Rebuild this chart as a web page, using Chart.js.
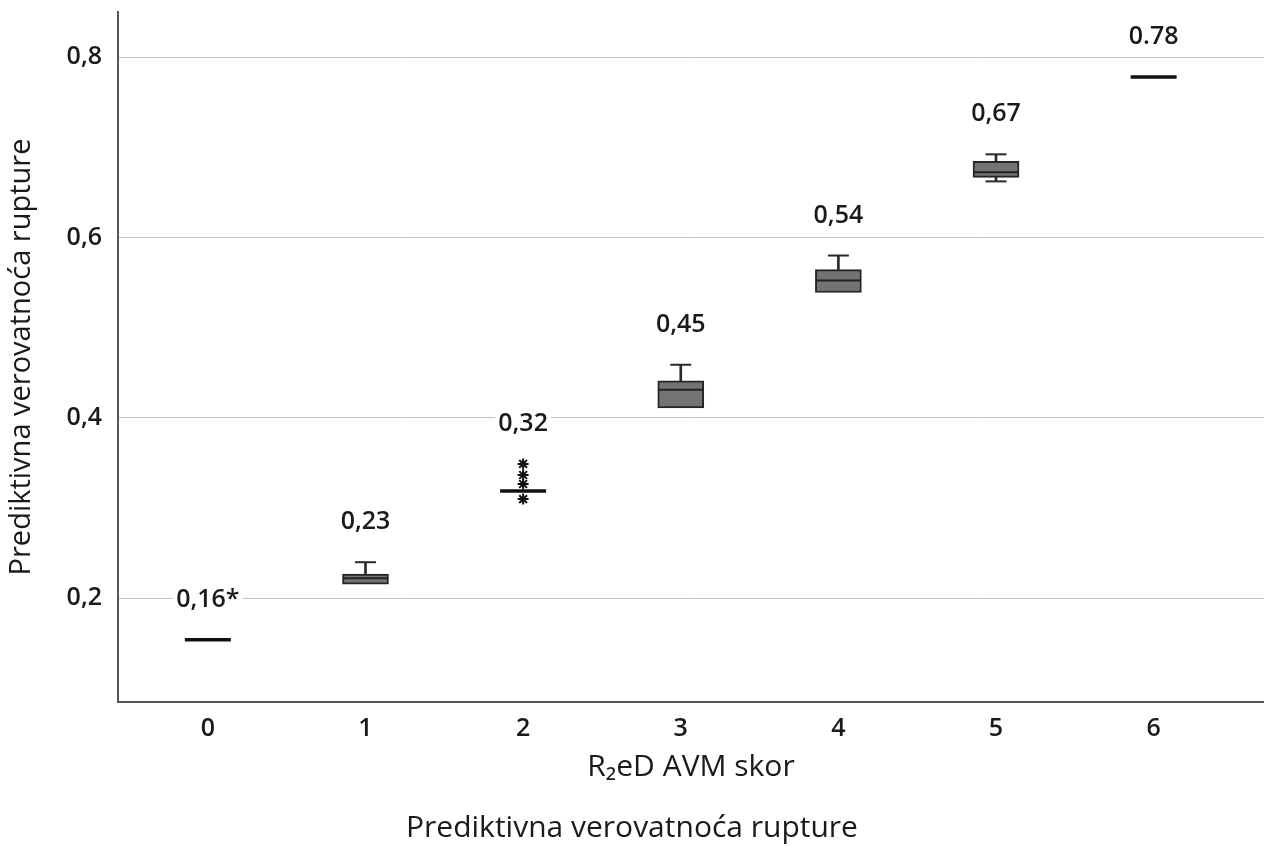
<!DOCTYPE html>
<html>
<head>
<meta charset="utf-8">
<script src="https://cdn.jsdelivr.net/npm/chart.js@4/dist/chart.umd.min.js"></script>
<style>
  html, body { margin: 0; padding: 0; background: #fff; }
  #wrap { width: 1264px; height: 846px; }
</style>
</head>
<body>
<div id="wrap"><canvas id="rupture" width="1264" height="846"></canvas></div>
<script>
// R2eD AVM skor -> predicted rupture probability (box plot values)
const scores = [0, 1, 2, 3, 4, 5, 6];
const whiskerLow = [0.154, 0.2156, 0.319, 0.411, 0.539, 0.6622, 0.778];
const q1 = [0.154, 0.2156, 0.319, 0.411, 0.539, 0.6667, 0.778];
const medians = [0.154, 0.2222, 0.319, 0.4311, 0.5522, 0.6722, 0.778];
const q3 = [0.154, 0.2267, 0.319, 0.4411, 0.5644, 0.6844, 0.778];
const whiskerHigh = [0.154, 0.24, 0.319, 0.4589, 0.58, 0.6922, 0.778];
const outlierScore = 2;
const outliers = [0.349, 0.3367, 0.3267, 0.31];
const meanLabels = ['0,16*', '0,23', '0,32', '0,45', '0,54', '0,67', '0.78'];
const yTicks = [0.2, 0.4, 0.6, 0.8];

document.addEventListener("DOMContentLoaded", function() {
    const FONT = "'Open Sans', 'Noto Sans', sans-serif";
    const ink = '#1a1a1a';

    // split into real boxes and degenerate ones (single line)
    const hasBox = scores.map((s, i) => q3[i] > q1[i]);
    const boxData = [], upStems = [], lowStems = [], caps = [], boxMedians = [], flatMedians = [];
    scores.forEach((s, i) => {
        if (hasBox[i]) {
            boxData.push({ x: s, y: [q1[i], q3[i]] });
            boxMedians.push({ x: s, y: medians[i] });
            if (whiskerHigh[i] > q3[i]) {
                upStems.push({ x: s, y: [q3[i], whiskerHigh[i]] });
                caps.push({ x: s, y: whiskerHigh[i] });
            }
            if (whiskerLow[i] < q1[i]) {
                lowStems.push({ x: s, y: [whiskerLow[i], q1[i]] });
                caps.push({ x: s, y: whiskerLow[i] });
            }
        } else {
            flatMedians.push({ x: s, y: medians[i] });
        }
    });

    // mean labels above each group, with white background so grid lines break
    const labelPlugin = {
        id: 'meanLabels',
        afterDatasetsDraw(chart) {
            const { ctx, scales: { x, y } } = chart;
            ctx.save();
            ctx.font = '600 25px ' + FONT;
            ctx.textAlign = 'center';
            ctx.textBaseline = 'middle';
            scores.forEach((s, i) => {
                let top = whiskerHigh[i];
                if (s === outlierScore) top = Math.max(top, ...outliers);
                const px = x.getPixelForValue(s);
                const py = y.getPixelForValue(top) - 40;
                const w = ctx.measureText(meanLabels[i]).width;
                ctx.fillStyle = '#fff';
                ctx.fillRect(px - w / 2 - 3, py - 13, w + 6, 26);
                ctx.fillStyle = ink;
                ctx.fillText(meanLabels[i], px, py);
            });
            ctx.restore();
        }
    };

    const ctx = document.getElementById('rupture').getContext('2d');
    new Chart(ctx, {
        type: 'scatter',
        data: {
            datasets: [
                { type: 'bar', data: upStems, grouped: false, barThickness: 2,
                  backgroundColor: '#2a2a2a', borderWidth: 0, order: 5 },
                { type: 'bar', data: lowStems, grouped: false, barThickness: 2,
                  backgroundColor: '#2a2a2a', borderWidth: 0, order: 5 },
                { type: 'bar', data: boxData, grouped: false, barThickness: 46,
                  backgroundColor: '#737373', borderColor: '#262626', borderWidth: 2,
                  borderSkipped: false, order: 4 },
                { data: boxMedians, pointStyle: 'line', pointRadius: 22, pointHoverRadius: 22,
                  pointBorderColor: '#222', pointBorderWidth: 2, order: 1 },
                { data: caps, pointStyle: 'line', pointRadius: 10.5, pointHoverRadius: 10.5,
                  pointBorderColor: '#2a2a2a', pointBorderWidth: 2, order: 1 },
                { data: flatMedians, pointStyle: 'line', pointRadius: 23, pointHoverRadius: 23,
                  pointBorderColor: '#111', pointBorderWidth: 3.5, order: 1 },
                { data: outliers.map(v => ({ x: outlierScore, y: v })), pointStyle: 'star',
                  pointRadius: 5.5, pointHoverRadius: 5.5, pointBorderColor: '#111',
                  pointBorderWidth: 2, order: 0 }
            ]
        },
        options: {
            responsive: false,
            animation: false,
            events: [],
            layout: { autoPadding: false, padding: { top: 12, right: 0, left: 0, bottom: 0 } },
            plugins: {
                legend: { display: false },
                tooltip: { enabled: false },
                title: {
                    display: true,
                    position: 'bottom',
                    text: 'Prediktivna verovatnoća rupture',
                    color: ink,
                    font: { family: FONT, size: 30, weight: '400' },
                    padding: { top: 0, bottom: 0 }
                }
            },
            scales: {
                x: {
                    type: 'linear',
                    min: -0.57,
                    max: 6.7,
                    offset: false,
                    afterBuildTicks: s => { s.ticks = scores.map(v => ({ value: v })); },
                    afterFit: s => { s.height = 108; s.paddingLeft = 0; s.paddingRight = 0; },
                    grid: { display: false, drawTicks: false },
                    border: { display: true, color: '#555', width: 2 },
                    ticks: {
                        padding: 12,
                        color: ink,
                        font: { family: FONT, size: 25, weight: '600' }
                    },
                    title: {
                        display: true,
                        text: 'R₂eD AVM skor',
                        color: ink,
                        font: { family: FONT, size: 30, weight: '400' },
                        padding: { top: 0, bottom: 25 }
                    }
                },
                y: {
                    min: 0.085,
                    max: 0.85,
                    afterBuildTicks: s => { s.ticks = yTicks.map(v => ({ value: v })); },
                    afterFit: s => { s.width = 118; s.paddingTop = 0; s.paddingBottom = 0; },
                    grid: { color: '#c4c4c4', lineWidth: 1, drawTicks: false },
                    border: { display: true, color: '#555', width: 2 },
                    ticks: {
                        padding: 16,
                        color: ink,
                        font: { family: FONT, size: 25, weight: '600' },
                        callback: v => String(v).replace('.', ',')
                    },
                    title: {
                        display: true,
                        text: 'Prediktivna verovatnoća rupture',
                        color: ink,
                        font: { family: FONT, size: 29, weight: '400' },
                        padding: { top: 4, bottom: 0 }
                    }
                }
            }
        },
        plugins: [labelPlugin]
    });
});
</script>
</body>
</html>
